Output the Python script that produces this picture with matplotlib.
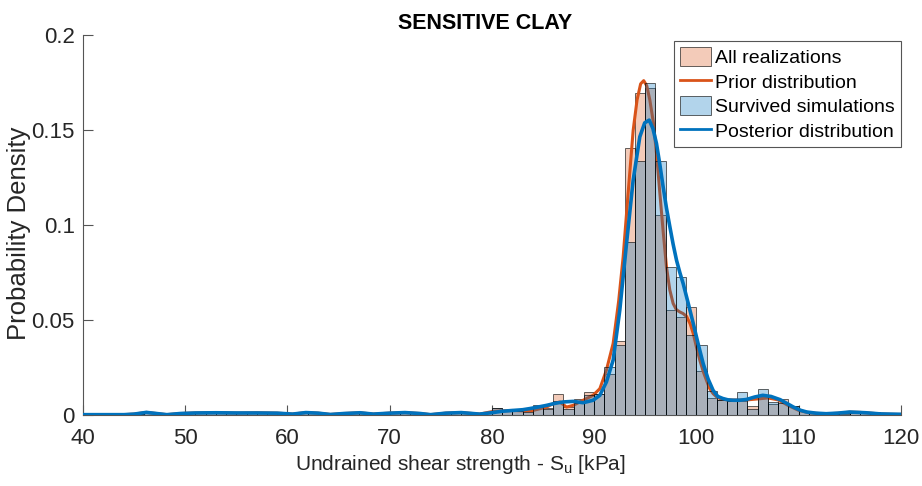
import matplotlib
matplotlib.use("Agg")
import matplotlib.pyplot as plt
from matplotlib.patches import Patch
from matplotlib.lines import Line2D
from matplotlib.ticker import FuncFormatter

plt.rcParams['font.family'] = ['Liberation Sans', 'DejaVu Sans']
plt.rcParams['mathtext.fontset'] = 'custom'
plt.rcParams['mathtext.rm'] = 'Liberation Sans'

# histogram bins: left edges, 1 kPa wide
bin_left = list(range(44, 120))

# "All realizations" densities per bin
all_real = [0.0, 0.0005, 0.0015, 0.0005, 0.0, 0.0005, 0.001, 0.001, 0.0015, 0.001,
            0.0015, 0.001, 0.001, 0.0015, 0.001, 0.001, 0.0005, 0.0015, 0.0015, 0.0005,
            0.0005, 0.001, 0.0015, 0.001, 0.0005, 0.001, 0.0015, 0.0015, 0.001, 0.0005,
            0.0005, 0.0015, 0.0015, 0.0015, 0.0005, 0.0015, 0.0035, 0.0025, 0.0025, 0.002,
            0.005, 0.0035, 0.011, 0.004, 0.0085, 0.0121, 0.0113, 0.0215, 0.0389, 0.1408,
            0.1695, 0.1725, 0.1052, 0.0552, 0.0514, 0.0570, 0.0230, 0.0088, 0.0081, 0.0075,
            0.0074, 0.0050, 0.0099, 0.0058, 0.0085, 0.0050, 0.002, 0.001, 0.0005, 0.0005,
            0.0005, 0.001, 0.0015, 0.001, 0.0005, 0.0]

# "Survived simulations" densities per bin
survived = [0.0, 0.0005, 0.001, 0.0005, 0.0, 0.0005, 0.001, 0.0015, 0.001, 0.001,
            0.0015, 0.0015, 0.001, 0.001, 0.0015, 0.001, 0.0005, 0.001, 0.0015, 0.001,
            0.0005, 0.001, 0.001, 0.0015, 0.0005, 0.001, 0.001, 0.0015, 0.0015, 0.0005,
            0.0005, 0.001, 0.0015, 0.001, 0.001, 0.001, 0.0037, 0.0025, 0.002, 0.0015,
            0.0055, 0.003, 0.0072, 0.0034, 0.0065, 0.0108, 0.0113, 0.0253, 0.0371, 0.0910,
            0.1338, 0.1748, 0.1338, 0.0781, 0.0728, 0.0424, 0.0371, 0.0125, 0.0081, 0.0075,
            0.0121, 0.003, 0.0139, 0.0068, 0.0065, 0.005, 0.002, 0.001, 0.0005, 0.0005,
            0.001, 0.001, 0.001, 0.0015, 0.0005, 0.0]

# prior distribution curve
prior_x = [40, 44, 45, 46.2, 47.2, 48.2, 49.5, 51, 53, 55, 57, 59, 60.5, 61.8, 63, 64.2,
           65.5, 67.1, 68.4, 70, 71.5, 73, 74, 75.5, 77, 78.8, 80.1, 81, 82, 83, 84, 85.35,
           86, 86.65, 87.3, 87.95, 88.6, 89.26, 89.9, 90.56, 91.2, 91.86, 92.4, 92.84, 93.3,
           93.82, 94.2, 94.55, 94.85, 95.15, 95.45, 95.8, 96.1, 96.43, 96.75, 97.08, 97.4,
           97.73, 98.05, 98.39, 98.7, 99.04, 99.4, 99.7, 100.0, 100.34, 100.67, 100.99,
           101.3, 101.64, 102.0, 102.3, 103, 104, 105, 106, 107, 108, 109, 110, 111, 112,
           113, 114, 115, 116, 117, 118, 119, 120]
prior_y = [0.0002, 0.0002, 0.0005, 0.0014, 0.0008, 0.0002, 0.0008, 0.0011, 0.0013, 0.0010,
           0.0012, 0.0010, 0.0005, 0.0013, 0.0010, 0.0003, 0.0008, 0.0012, 0.0005, 0.0010,
           0.0013, 0.0008, 0.0002, 0.0010, 0.0013, 0.0005, 0.0019, 0.0022, 0.0024, 0.0022,
           0.0024, 0.0042, 0.0060, 0.0069, 0.0042, 0.0051, 0.0069, 0.0087, 0.0104, 0.0139,
           0.0236, 0.0377, 0.060, 0.0833, 0.115, 0.150, 0.166, 0.1745, 0.1762, 0.1735, 0.166,
           0.154, 0.138, 0.117, 0.097, 0.078, 0.066, 0.0588, 0.0555, 0.0543, 0.0535, 0.052,
           0.048, 0.0429, 0.036, 0.0289, 0.023, 0.0183, 0.014, 0.0113, 0.0095, 0.0087,
           0.0080, 0.0079, 0.0080, 0.0085, 0.0090, 0.0080, 0.0050, 0.0025, 0.0012, 0.0008,
           0.0007, 0.0010, 0.0015, 0.0014, 0.0010, 0.0006, 0.0004, 0.0003]

# posterior distribution curve
post_x = [40, 44, 45, 46.2, 47.2, 48.2, 49.5, 51, 53, 55, 57, 59, 60.5, 61.8, 63, 64.2,
          65.5, 67.1, 68.4, 70, 71.5, 73, 74, 75.5, 77, 78.8, 80.1, 81, 82, 83, 83.7, 84.5,
          85.35, 86.2, 86.98, 87.95, 88.93, 89.9, 90.56, 91.2, 91.86, 92.51, 93.17, 93.82,
          94.47, 94.95, 95.39, 95.75, 96.1, 96.43, 96.75, 97.08, 97.41, 97.73, 98.06, 98.39,
          98.71, 99.2, 99.7, 100.2, 100.67, 101.15, 101.64, 102.1, 102.6, 103.1, 103.6,
          104.25, 104.9, 105.7, 106.5, 107.3, 108.2, 108.9, 109.5, 110.2, 110.8, 111.7,
          112.7, 113.8, 115, 116.6, 118, 119.9]
post_y = [0.0002, 0.0002, 0.0005, 0.0014, 0.0008, 0.0002, 0.0008, 0.0011, 0.0012, 0.0011,
          0.0011, 0.0010, 0.0005, 0.0013, 0.0010, 0.0003, 0.0008, 0.0012, 0.0005, 0.0010,
          0.0013, 0.0008, 0.0002, 0.0010, 0.0013, 0.0005, 0.0013, 0.0020, 0.0024, 0.0028,
          0.0034, 0.0042, 0.0051, 0.0062, 0.0069, 0.0072, 0.0065, 0.0078, 0.0104, 0.0174,
          0.0289, 0.0552, 0.0904, 0.1238, 0.1466, 0.1540, 0.1554, 0.1510, 0.1431, 0.132,
          0.1203, 0.109, 0.0992, 0.090, 0.0816, 0.0750, 0.0693, 0.059, 0.0482, 0.037, 0.0271,
          0.019, 0.013, 0.0098, 0.0087, 0.0080, 0.0078, 0.0078, 0.0082, 0.0095, 0.0104,
          0.0098, 0.0081, 0.006, 0.0042, 0.0025, 0.0016, 0.0010, 0.0007, 0.0010, 0.0016,
          0.0012, 0.0006, 0.0004]

orange = (0.85, 0.325, 0.098)
blue = (0.0, 0.447, 0.741)
edge = (0, 0, 0, 0.6)

fig = plt.figure(figsize=(9.22, 4.86), dpi=100)
ax = fig.add_axes([0.09, 0.146, 0.887, 0.781])

ax.bar(bin_left, all_real, width=1, align='edge', color=orange + (0.3,),
       edgecolor=edge, linewidth=0.7, zorder=1)
ax.plot(prior_x, prior_y, color=orange, lw=2.2, zorder=2)
ax.bar(bin_left, survived, width=1, align='edge', color=blue + (0.3,),
       edgecolor=edge, linewidth=0.7, zorder=3)
ax.plot(post_x, post_y, color=blue, lw=2.6, zorder=4)

ax.set_xlim(40, 120)
ax.set_ylim(0, 0.2)
ax.set_xticks(range(40, 121, 10))
ax.set_yticks([0, 0.05, 0.1, 0.15, 0.2])
ax.yaxis.set_major_formatter(FuncFormatter(lambda v, p: ('%g' % v)))

for s in ['top', 'right']:
    ax.spines[s].set_visible(False)
for s in ['left', 'bottom']:
    ax.spines[s].set_color('#555555')
    ax.spines[s].set_linewidth(0.8)
ax.tick_params(direction='in', length=7, width=0.8, color='#555555',
               labelsize=16, labelcolor='#262626')
ax.tick_params(axis='x', pad=9)
ax.tick_params(axis='y', pad=6)

ax.set_title('SENSITIVE CLAY', fontsize=15.5, fontweight='bold', pad=5, x=0.492)
ax.set_xlabel(r'Undrained shear strength - S$_\mathregular{u}$ [kPa]', fontsize=15,
              color='#262626', labelpad=3, x=0.462)
ax.set_ylabel('Probability Density', fontsize=18.5, color='#262626', labelpad=0, y=0.48)

handles = [Patch(facecolor=orange + (0.3,), edgecolor=edge, linewidth=0.7),
           Line2D([0], [0], color=orange, lw=2),
           Patch(facecolor=blue + (0.3,), edgecolor=edge, linewidth=0.7),
           Line2D([0], [0], color=blue, lw=2)]
labels = ['All realizations', 'Prior distribution', 'Survived simulations',
          'Posterior distribution']
leg = ax.legend(handles, labels, loc='upper right', bbox_to_anchor=(1.0, 0.985),
                fontsize=14, fancybox=False, framealpha=1, edgecolor='#555555',
                handlelength=1.6, handleheight=1.1, handletextpad=0.2, borderpad=0.3,
                labelspacing=0.24, borderaxespad=0.0)
leg.get_frame().set_linewidth(0.8)

fig.savefig('out.png', dpi=100)
